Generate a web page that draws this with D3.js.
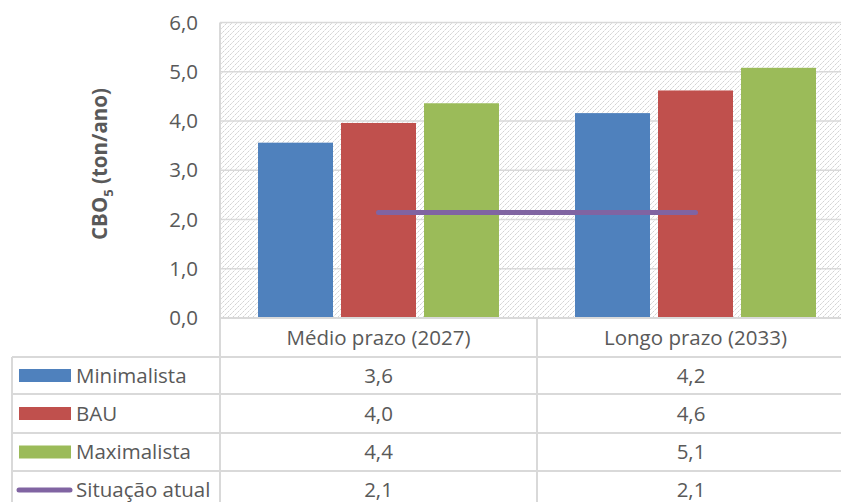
<!DOCTYPE html>
<html>
  <head>
    <style>
      body {
        margin: 0;
        background: #fff;
        font-family: "Open Sans", sans-serif;
      }
      text { fill: #595959; }
      .grid line { stroke: #d9d9d9; stroke-width: 1.5px; }
      .tbl line { stroke: #d9d9d9; stroke-width: 2px; }
    </style>
  </head>
  <body>
    <script src="https://d3js.org/d3.v7.min.js"></script>
    <script>
      // data
      var categories = ["Médio prazo (2027)", "Longo prazo (2033)"];
      var seriesNames = ["Minimalista", "BAU", "Maximalista"];
      var minimalista = [3.56, 4.16];
      var bau = [3.96, 4.62];
      var maximalista = [4.36, 5.08];
      var situacaoAtual = [2.14, 2.14];
      var yTicks = [0, 1, 2, 3, 4, 5, 6];
      var colors = ["#4F81BD", "#C0504D", "#9BBB59"];
      var lineColor = "#8064A2";

      var barSeries = [minimalista, bau, maximalista];

      var W = 841, H = 502;
      var plot = {left: 220, right: 854, top: 22.5, bottom: 318};
      var rowLines = [357, 394, 433, 471, 509];
      var tableLeft = 12;
      var fs = "20.5px";

      var fmt = d3.formatLocale({decimal: ",", thousands: ".", grouping: [3], currency: ["", ""]}).format(".1f");

      var svg = d3.select("body").append("svg")
        .attr("width", W)
        .attr("height", H);

      // hatched plot background (light upward diagonal)
      var pat = svg.append("defs").append("pattern")
        .attr("id", "hatch")
        .attr("patternUnits", "userSpaceOnUse")
        .attr("width", 5).attr("height", 5);
      pat.append("rect").attr("width", 5).attr("height", 5).attr("fill", "#fff");
      pat.append("path")
        .attr("d", "M-1,1 L1,-1 M0,5 L5,0 M4,6 L6,4")
        .attr("stroke", "#d3d3d3")
        .attr("stroke-width", 1)
        .attr("stroke-dasharray", "2.5,0.8");

      var x0 = d3.scaleBand()
        .domain(categories)
        .range([plot.left, plot.right]);
      var x1 = d3.scaleBand()
        .domain(seriesNames)
        .range([0, x0.bandwidth()])
        .paddingInner(0.0964)
        .paddingOuter(0.458);
      var y = d3.scaleLinear()
        .domain([0, 6])
        .range([plot.bottom, plot.top]);

      svg.append("rect")
        .attr("x", plot.left).attr("y", plot.top)
        .attr("width", plot.right - plot.left)
        .attr("height", plot.bottom - plot.top)
        .attr("fill", "url(#hatch)");

      // gridlines
      svg.append("g").attr("class", "grid")
        .selectAll("line")
        .data(yTicks)
        .enter().append("line")
          .attr("x1", plot.left).attr("x2", plot.right)
          .attr("y1", d => y(d)).attr("y2", d => y(d));

      // y axis labels
      var yAxis = d3.axisLeft(y).tickValues(yTicks).tickFormat(fmt).tickSize(0).tickPadding(22);
      var ya = svg.append("g")
        .attr("transform", "translate(" + plot.left + ",0)")
        .call(yAxis);
      ya.select(".domain").remove();
      ya.selectAll("text")
        .style("font-family", "'Open Sans', sans-serif")
        .style("font-size", fs)
        .attr("fill", "#595959");

      // bars
      barSeries.forEach(function(vals, si) {
        svg.append("g")
          .selectAll("rect")
          .data(vals)
          .enter().append("rect")
            .attr("x", (d, i) => x0(categories[i]) + x1(seriesNames[si]))
            .attr("width", x1.bandwidth())
            .attr("y", d => y(d))
            .attr("height", d => y(0) - y(d))
            .attr("fill", colors[si]);
      });

      // line series
      var line = d3.line()
        .x((d, i) => x0(categories[i]) + x0.bandwidth() / 2)
        .y(d => y(d));
      svg.append("path")
        .datum(situacaoAtual)
        .attr("d", line)
        .attr("fill", "none")
        .attr("stroke", lineColor)
        .attr("stroke-width", 5)
        .attr("stroke-linecap", "round");

      // y axis title
      var yt = svg.append("text")
        .attr("transform", "translate(107,164) rotate(-90)")
        .attr("text-anchor", "middle")
        .style("font-size", "20.5px")
        .style("font-weight", "bold");
      yt.append("tspan").text("CBO");
      yt.append("tspan").attr("dy", 6).style("font-size", "13px").text("5");
      yt.append("tspan").attr("dy", -6).text(" (ton/ano)");

      // data table
      var tbl = svg.append("g").attr("class", "tbl");
      tbl.append("line")
        .attr("x1", plot.left).attr("x2", W)
        .attr("y1", plot.bottom).attr("y2", plot.bottom);
      tbl.selectAll("line.h")
        .data(rowLines)
        .enter().append("line").attr("class", "h")
          .attr("x1", tableLeft).attr("x2", W)
          .attr("y1", d => d).attr("y2", d => d);
      tbl.append("line")
        .attr("x1", tableLeft).attr("x2", tableLeft)
        .attr("y1", rowLines[0]).attr("y2", H);
      [plot.left].concat(categories.slice(1).map(c => x0(c))).forEach(function(xv) {
        tbl.append("line")
          .attr("x1", xv).attr("x2", xv)
          .attr("y1", xv === plot.left ? plot.top : plot.bottom).attr("y2", H);
      });

      // header
      svg.append("g").selectAll("text")
        .data(categories)
        .enter().append("text")
          .attr("x", d => x0(d) + x0.bandwidth() / 2)
          .attr("y", (plot.bottom + rowLines[0]) / 2)
          .attr("dy", "0.35em")
          .attr("text-anchor", "middle")
          .style("font-size", fs)
          .text(d => d);

      var rows = seriesNames.map((n, i) => ({name: n, vals: barSeries[i], color: colors[i], type: "bar"}));
      rows.push({name: "Situação atual", vals: situacaoAtual, color: lineColor, type: "line"});

      rows.forEach(function(r, ri) {
        var cy = (rowLines[ri] + rowLines[ri + 1]) / 2;
        if (r.type === "bar") {
          svg.append("rect")
            .attr("x", 19).attr("y", cy - 6.5)
            .attr("width", 52).attr("height", 13)
            .attr("fill", r.color);
        } else {
          svg.append("line")
            .attr("x1", 19).attr("x2", 70)
            .attr("y1", cy).attr("y2", cy)
            .attr("stroke", r.color)
            .attr("stroke-width", 5)
            .attr("stroke-linecap", "round");
        }
        svg.append("text")
          .attr("x", 76).attr("y", cy)
          .attr("dy", "0.35em")
          .style("font-size", fs)
          .text(r.name);
        svg.append("g").selectAll("text")
          .data(r.vals)
          .enter().append("text")
            .attr("x", (d, i) => x0(categories[i]) + (i === 0 ? x0.bandwidth() / 2 : (W - x0(categories[i])) / 2 + 2))
            .attr("y", cy)
            .attr("dy", "0.35em")
            .attr("text-anchor", "middle")
            .style("font-size", fs)
            .text(d => fmt(d));
      });
    </script>
  </body>
</html>
